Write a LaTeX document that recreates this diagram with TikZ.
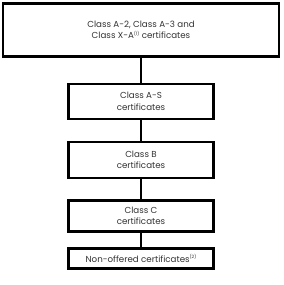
\documentclass[tikz,border=0pt]{standalone}
\usepackage{fontspec}
\setmainfont{Poppins}
\newcommand{\supnote}[1]{\raisebox{3.2pt}{\fontsize{4.5}{5}\selectfont #1}}
\begin{document}
\begin{tikzpicture}[x=1pt,y=-1pt,
  box/.style={draw=black,line width=2.2pt,fill=white,align=center,font=\fontsize{8.7}{11.5}\selectfont,text=black!80,inner sep=0pt},
  link/.style={draw=black,line width=2.2pt}]
\useasboundingbox (0,0) rectangle (284,285);
\node[box,minimum width=276pt,minimum height=53pt] (a) at (141,30) {Class A-2, Class A-3 and\\Class X-A\supnote{(1)} certificates};
\node[box,minimum width=145pt,minimum height=35pt] (b) at (141,101.5) {Class A-S\\certificates};
\node[box,minimum width=145pt,minimum height=36pt] (c) at (141,160) {Class B\\certificates};
\node[box,minimum width=145pt,minimum height=31pt] (d) at (141,216) {Class C\\certificates};
\node[box,minimum width=145pt,minimum height=20pt] (e) at (141,258.5) {Non-offered certificates\supnote{(2)}};
\draw[link] (a) -- (b);
\draw[link] (b) -- (c);
\draw[link] (c) -- (d);
\draw[link] (d) -- (e);
\end{tikzpicture}
\end{document}
